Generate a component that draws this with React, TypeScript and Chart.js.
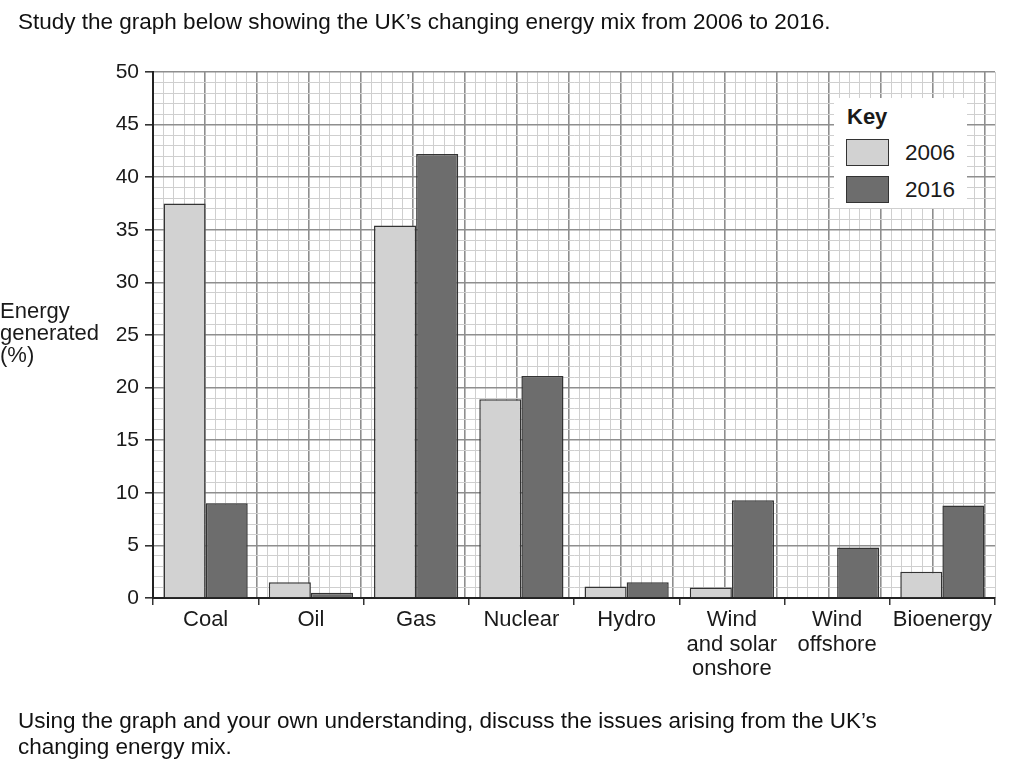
import React, { useEffect, useRef } from "react";
import { Chart, registerables } from "chart.js";

Chart.register(...registerables);

const categories: string[][] = [
  ["Coal"],
  ["Oil"],
  ["Gas"],
  ["Nuclear"],
  ["Hydro"],
  ["Wind", "and solar", "onshore"],
  ["Wind", "offshore"],
  ["Bioenergy"],
];
const values2006 = [37.5, 1.5, 35.4, 18.9, 1.1, 1.0, 0, 2.5];
const values2016 = [9.0, 0.5, 42.2, 21.1, 1.5, 9.3, 4.8, 8.8];
const seriesLabels = ["2006", "2016"];
const yMin = 0;
const yMax = 50;
const yMajorStep = 5;
const minorColumns = 80;

const FONT = "'Liberation Sans', Arial, Helvetica, sans-serif";
const COLOR_2006 = "#d2d2d2";
const COLOR_2016 = "#6d6d6d";
const MINOR = "#cfcfcf";
const MAJOR = "#8e8e8e";

export default function App() {
  const ref = useRef<HTMLCanvasElement | null>(null);

  useEffect(() => {
    if (!ref.current) return;
    const chart = new Chart(ref.current, {
      type: "bar",
      data: {
        labels: categories,
        datasets: [
          {
            label: seriesLabels[0],
            data: values2006,
            backgroundColor: COLOR_2006,
            borderColor: "#333",
            borderWidth: 1.5,
            categoryPercentage: 0.8,
            barPercentage: 1.0,
            xAxisID: "x",
          },
          {
            label: seriesLabels[1],
            data: values2016,
            backgroundColor: COLOR_2016,
            borderColor: "#333",
            borderWidth: 1.5,
            categoryPercentage: 0.8,
            barPercentage: 1.0,
            xAxisID: "x",
          },
        ],
      },
      options: {
        responsive: false,
        animation: false,
        layout: { padding: { left: 103, top: 72, right: 35, bottom: 81 } },
        plugins: {
          legend: { display: false },
          tooltip: { enabled: false },
        },
        scales: {
          x: {
            type: "category",
            position: "bottom",
            afterFit: (s: any) => {
              s.height = 90;
            },
            grid: {
              offset: true,
              drawOnChartArea: false,
              drawTicks: true,
              tickLength: 7,
              tickColor: "#333",
              lineWidth: 1.5,
            },
            border: { display: true, color: "#222", width: 2 },
            ticks: {
              color: "#1a1a1a",
              padding: 3,
              maxRotation: 0,
              autoSkip: false,
              font: { family: FONT, size: 22, lineHeight: 1.11 },
            },
          },
          x2: {
            type: "linear",
            position: "top",
            min: 0,
            max: minorColumns,
            afterFit: (s: any) => {
              s.height = 0;
            },
            ticks: { display: false, stepSize: 1, maxTicksLimit: 200, autoSkip: false },
            grid: {
              drawTicks: false,
              color: (ctx: any) => (ctx.tick && ctx.tick.value % 5 === 0 ? MAJOR : MINOR),
              lineWidth: (ctx: any) => (ctx.tick && ctx.tick.value % 5 === 0 ? 1.6 : 1),
            },
            border: { display: false },
          },
          y: {
            type: "linear",
            min: yMin,
            max: yMax,
            afterFit: (s: any) => {
              s.width = 50;
            },
            ticks: {
              stepSize: 1,
              maxTicksLimit: 200,
              autoSkip: false,
              color: "#1a1a1a",
              padding: 6,
              font: { family: FONT, size: 21 },
              callback: (v: any) => (Number(v) % yMajorStep === 0 ? String(v) : ""),
            },
            grid: {
              tickLength: 8,
              color: (ctx: any) => (ctx.tick && ctx.tick.value % 5 === 0 ? MAJOR : MINOR),
              lineWidth: (ctx: any) => (ctx.tick && ctx.tick.value % 5 === 0 ? 1.6 : 1),
              tickColor: (ctx: any) =>
                ctx.tick && ctx.tick.value % 5 === 0 ? "#333" : "rgba(0,0,0,0)",
            },
            border: { display: true, color: "#222", width: 2 },
          },
        },
      },
    });
    return () => chart.destroy();
  }, []);

  const textStyle: React.CSSProperties = {
    position: "absolute",
    fontFamily: FONT,
    fontSize: 22.5,
    color: "#111",
    whiteSpace: "nowrap",
  };

  return (
    <div
      style={{
        position: "absolute",
        left: 0,
        top: 0,
        width: 1030,
        height: 769,
        background: "#fff",
        overflow: "hidden",
      }}
    >
      <canvas ref={ref} width={1030} height={769} style={{ position: "absolute", left: 0, top: 0 }} />
      <div style={{ ...textStyle, left: 18, top: 9 }}>
        Study the graph below showing the UK’s changing energy mix from 2006 to 2016.
      </div>
      <div style={{ ...textStyle, fontSize: 22, left: 0, top: 300, lineHeight: "22px", color: "#1a1a1a" }}>
        Energy
        <br />
        generated
        <br />
        (%)
      </div>
      <div style={{ ...textStyle, left: 18, top: 708, lineHeight: "26px" }}>
        Using the graph and your own understanding, discuss the issues arising from the UK’s
        <br />
        changing energy mix.
      </div>
      <div
        style={{
          position: "absolute",
          left: 834,
          top: 98,
          width: 133,
          height: 110,
          background: "#fff",
          fontFamily: FONT,
          color: "#1a1a1a",
        }}
      >
        <div style={{ position: "absolute", left: 13, top: 6, fontWeight: "bold", fontSize: 22 }}>Key</div>
        <div
          style={{
            position: "absolute",
            left: 12,
            top: 41,
            width: 41,
            height: 25,
            background: COLOR_2006,
            border: "1.5px solid #333",
          }}
        />
        <div style={{ position: "absolute", left: 71, top: 42, fontSize: 22.5 }}>{seriesLabels[0]}</div>
        <div
          style={{
            position: "absolute",
            left: 12,
            top: 78,
            width: 41,
            height: 25,
            background: COLOR_2016,
            border: "1.5px solid #333",
          }}
        />
        <div style={{ position: "absolute", left: 71, top: 79, fontSize: 22.5 }}>{seriesLabels[1]}</div>
      </div>
    </div>
  );
}
